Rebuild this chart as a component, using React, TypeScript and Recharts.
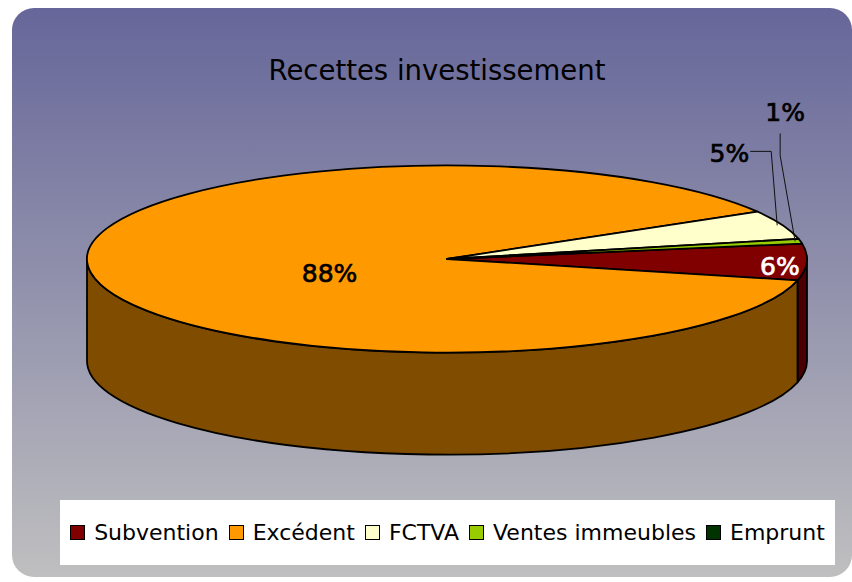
import React from 'react';
import { PieChart, Pie, Legend } from 'recharts';

const categories = ['Subvention', 'Excédent', 'FCTVA', 'Ventes immeubles', 'Emprunt'];
const values = [6.3, 87.9, 5.0, 0.8, 0];
const topColors = ['#800000', '#ff9900', '#ffffcc', '#99cc00', '#003300'];
const sideColors = ['#4a0000', '#7f4c00', '#80806a', '#4d6600', '#001a00'];
const chartTitle = 'Recettes investissement';

const data = categories.map((name, i) => ({ name, value: values[i] }));

const W = 852;
const H = 582;
const SQUASH = 0.26;
const DEPTH = 102;
const RAD = Math.PI / 180;
const FONT = '"DejaVu Sans", sans-serif';

const ep = (cx: number, cy: number, rx: number, ry: number, a: number, dy = 0) =>
  [cx + rx * Math.cos(a * RAD), cy - ry * Math.sin(a * RAD) + dy];

const renderGeometry = (p: any) => {
  const { cx, cy, outerRadius, startAngle, endAngle, index } = p;
  const a1 = Math.min(startAngle, endAngle);
  const a2 = Math.max(startAngle, endAngle);
  if (a2 - a1 <= 0.0001) return null;
  const rx = outerRadius;
  const ry = outerRadius * SQUASH;
  const sides: string[] = [];
  for (let k = Math.floor(a1 / 360) - 1; k <= Math.ceil(a2 / 360) + 1; k++) {
    const lo = Math.max(a1, -180 + 360 * k);
    const hi = Math.min(a2, 360 * k);
    if (hi - lo > 0.0001) {
      const [x1, y1] = ep(cx, cy, rx, ry, lo);
      const [x2, y2] = ep(cx, cy, rx, ry, hi);
      sides.push(
        `M${x1},${y1} A${rx},${ry} 0 0 0 ${x2},${y2} L${x2},${y2 + DEPTH} A${rx},${ry} 0 0 1 ${x1},${y1 + DEPTH} Z`
      );
    }
  }
  const [sx, sy] = ep(cx, cy, rx, ry, a1);
  const [tx, ty] = ep(cx, cy, rx, ry, a2);
  const large = a2 - a1 > 180 ? 1 : 0;
  const top = `M${cx},${cy} L${sx},${sy} A${rx},${ry} 0 ${large} 0 ${tx},${ty} Z`;
  return (
    <g key={`geo-${index}`}>
      {sides.map((d, i) => (
        <path key={i} d={d} fill={sideColors[index]} stroke="#000" strokeWidth={1.8} strokeLinejoin="round" />
      ))}
      <path d={top} fill={topColors[index]} stroke="#000" strokeWidth={1.8} strokeLinejoin="round" />
    </g>
  );
};

const renderText = (p: any) => {
  const { cx, cy, outerRadius, midAngle, percent, index } = p;
  if (!percent) return null;
  const rx = outerRadius;
  const ry = outerRadius * SQUASH;
  const txt = `${Math.round(percent * 100)}%`;
  const common = { fontFamily: FONT, fontSize: 25, dominantBaseline: 'central' as const, strokeWidth: 0.7 };
  if (index === 0 || index === 1) {
    const f = index === 0 ? 0.925 : 0.33;
    const dy = index === 0 ? 5 : 10;
    const [x, y] = ep(cx, cy, rx * f, ry * f, midAngle, dy);
    const col = index === 0 ? '#fff' : '#000';
    return (
      <text key={`t-${index}`} x={x} y={y} textAnchor="middle" fill={col} stroke={col} {...common}>
        {txt}
      </text>
    );
  }
  const [ax, ay] = ep(cx, cy, rx * 0.985, ry * 0.985, midAngle);
  if (index === 2) {
    const ex = ax - 6;
    const ey = ay - 74;
    return (
      <g key={`t-${index}`}>
        <polyline points={`${ax},${ay} ${ex},${ey} ${ex - 21},${ey}`} fill="none" stroke="#111" strokeWidth={1} />
        <text x={ex - 22} y={ey + 2} textAnchor="end" fill="#000" stroke="#000" {...common}>{txt}</text>
      </g>
    );
  }
  const ex = ax - 15;
  const ey = ay - 86;
  return (
    <g key={`t-${index}`}>
      <polyline points={`${ax},${ay} ${ex},${ey} ${ex},${ey - 22}`} fill="none" stroke="#111" strokeWidth={1} />
      <text x={ex + 5} y={ey - 43} textAnchor="middle" fill="#000" stroke="#000" {...common}>{txt}</text>
    </g>
  );
};

const renderLegend = () => (
  <div
    style={{
      width: 775,
      height: 65,
      background: '#fff',
      display: 'flex',
      alignItems: 'center',
      justifyContent: 'center',
      fontFamily: FONT,
      fontSize: 22,
      color: '#000',
      whiteSpace: 'nowrap',
    }}
  >
    {categories.map((c, i) => (
      <div key={c} style={{ display: 'flex', alignItems: 'center', marginLeft: i === 0 ? 0 : 10 }}>
        <span
          style={{
            display: 'inline-block',
            width: 13,
            height: 13,
            background: topColors[i],
            border: '1px solid #000',
            marginRight: 9,
          }}
        />
        <span>{c}</span>
      </div>
    ))}
  </div>
);

export default function App() {
  return (
    <div style={{ position: 'absolute', left: 0, top: 0, width: W, height: H, background: '#fff' }}>
      <PieChart width={W} height={H} margin={{ top: 0, right: 0, bottom: 0, left: 0 }}>
        <defs>
          <linearGradient id="bgGrad" x1="0" y1="0" x2="0" y2="1">
            <stop offset="0%" stopColor="#66669a" />
            <stop offset="100%" stopColor="#bfbfc0" />
          </linearGradient>
        </defs>
        <rect x={12} y={8} width={840} height={569} rx={22} ry={22} fill="url(#bgGrad)" />
        <text x={437} y={70} textAnchor="middle" dominantBaseline="central" fontFamily={FONT} fontSize={27.5} fill="#000">
          {chartTitle}
        </text>
        <Pie
          data={data}
          dataKey="value"
          nameKey="name"
          cx={447}
          cy={259}
          outerRadius={360}
          startAngle={9.5}
          endAngle={-350.5}
          fill="none"
          stroke="none"
          isAnimationActive={false}
          labelLine={false}
          label={renderGeometry}
        />
        <Pie
          data={data}
          dataKey="value"
          nameKey="name"
          cx={447}
          cy={259}
          outerRadius={360}
          startAngle={9.5}
          endAngle={-350.5}
          fill="none"
          stroke="none"
          isAnimationActive={false}
          labelLine={false}
          label={renderText}
        />
        <Legend
          verticalAlign="middle"
          layout="horizontal"
          content={renderLegend}
          wrapperStyle={{ left: 60, top: 500, width: 775, height: 65 }}
        />
      </PieChart>
    </div>
  );
}
